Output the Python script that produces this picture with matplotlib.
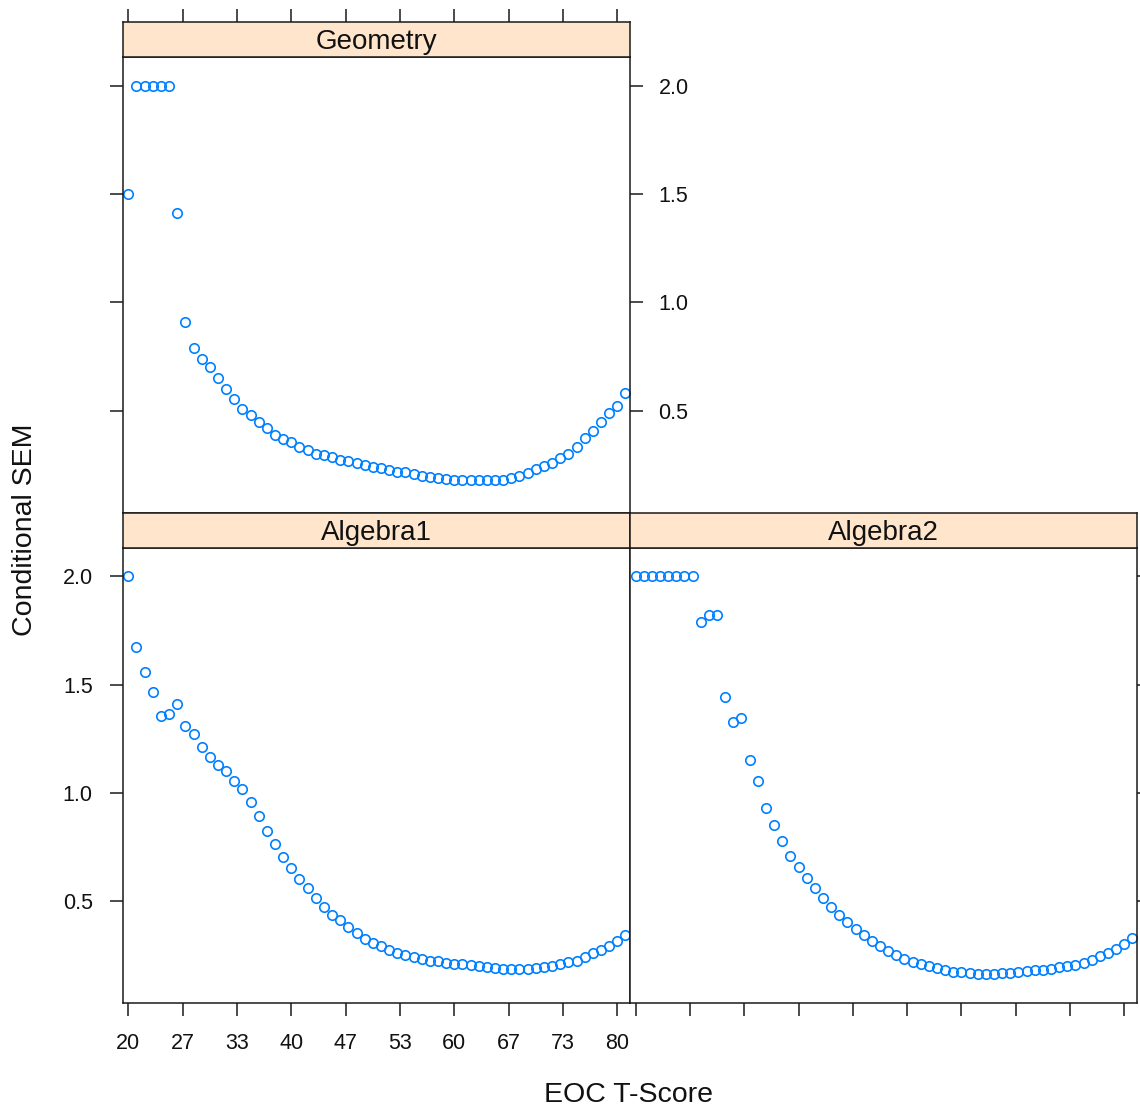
import numpy as np
import matplotlib
matplotlib.use("Agg")
import matplotlib.pyplot as plt

plt.rcParams['font.family'] = ['Liberation Sans', 'DejaVu Sans']

# ---- data ----
t_score = list(range(20, 82))

geometry = [1.50, 2.00, 2.00, 2.00, 2.00, 2.00, 1.41, 0.91, 0.79, 0.74,
            0.70, 0.65, 0.60, 0.555, 0.51, 0.48, 0.45, 0.42, 0.39, 0.37,
            0.355, 0.335, 0.32, 0.30, 0.295, 0.285, 0.275, 0.268, 0.26, 0.25,
            0.243, 0.235, 0.228, 0.22, 0.218, 0.21, 0.20, 0.195, 0.19, 0.185,
            0.182, 0.182, 0.182, 0.182, 0.182, 0.182, 0.182, 0.19, 0.20, 0.215,
            0.23, 0.245, 0.26, 0.28, 0.30, 0.335, 0.375, 0.405, 0.45, 0.49,
            0.52, 0.58]

algebra1 = [2.00, 1.675, 1.56, 1.465, 1.355, 1.365, 1.41, 1.31, 1.27, 1.21,
            1.165, 1.13, 1.10, 1.055, 1.02, 0.958, 0.892, 0.823, 0.763, 0.705,
            0.651, 0.600, 0.559, 0.516, 0.474, 0.436, 0.41, 0.382, 0.354, 0.325,
            0.308, 0.29, 0.275, 0.262, 0.25, 0.24, 0.232, 0.225, 0.222, 0.215,
            0.21, 0.207, 0.202, 0.198, 0.193, 0.19, 0.187, 0.187, 0.187, 0.187,
            0.19, 0.196, 0.20, 0.21, 0.216, 0.222, 0.243, 0.259, 0.274, 0.292,
            0.317, 0.343]

algebra2 = [2.00, 2.00, 2.00, 2.00, 2.00, 2.00, 2.00, 2.00, 1.79, 1.82,
            1.82, 1.443, 1.328, 1.348, 1.151, 1.055, 0.928, 0.851, 0.776, 0.71,
            0.655, 0.608, 0.559, 0.516, 0.474, 0.436, 0.402, 0.371, 0.343, 0.317,
            0.29, 0.271, 0.25, 0.232, 0.22, 0.21, 0.198, 0.19, 0.18, 0.172,
            0.17, 0.165, 0.163, 0.163, 0.163, 0.165, 0.168, 0.171, 0.175, 0.18,
            0.183, 0.188, 0.195, 0.198, 0.205, 0.215, 0.228, 0.245, 0.258, 0.277,
            0.30, 0.328]

panel_names = ["Geometry", "Algebra1", "Algebra2"]
x_tick_pos = [20 + k * 60 / 9 for k in range(10)]
x_tick_labels = ["20", "27", "33", "40", "47", "53", "60", "67", "73", "80"]
y_ticks = [0.5, 1.0, 1.5, 2.0]
y_tick_labels = ["0.5", "1.0", "1.5", "2.0"]

# ---- layout ----
W, H = 1140, 1110
fig = plt.figure(figsize=(W / 100, H / 100), dpi=100)

def frac(x0, y0, x1, y1):
    return [x0 / W, 1 - y1 / H, (x1 - x0) / W, (y1 - y0) / H]

XL = (19.31, 81.56)
YL = (0.03, 2.133)
pt_color = '#0080ff'
frame_col = '#1a1a1a'
TICK_LEN = 9.5
tick_fs = 15.5
strip_fs = 20

xl_px, xm_px, xr_px = 122.7, 630.0, 1137.0
top_strip = (21.7, 56.7)
top_plot = (56.7, 512.7)
bot_strip = (512.7, 547.7)
bot_plot = (547.7, 1002.7)

def make_panel(x0, x1, strip, plot, name, yvals):
    ax = fig.add_axes(frac(x0, plot[0], x1, plot[1]))
    ax.plot(t_score, yvals, linestyle='none', marker='o', markersize=6.8,
            markerfacecolor='none', markeredgecolor=pt_color, markeredgewidth=1.2,
            clip_on=True)
    ax.set_xlim(*XL)
    ax.set_ylim(*YL)
    for s in ax.spines.values():
        s.set_color(frame_col)
        s.set_linewidth(1.1)
    ax.tick_params(axis='both', direction='out', length=TICK_LEN, width=1.1,
                   color=frame_col, labelsize=tick_fs, labelcolor='#111111')
    ax.set_xticks(x_tick_pos)
    ax.set_xticklabels(x_tick_labels)
    ax.set_yticks(y_ticks)
    ax.set_yticklabels(y_tick_labels)

    sax = fig.add_axes(frac(x0, strip[0], x1, strip[1]))
    sax.set_facecolor('#ffe5cc')
    sax.set_xlim(*XL)
    sax.set_ylim(0, 1)
    for s in sax.spines.values():
        s.set_color(frame_col)
        s.set_linewidth(1.1)
    sax.set_yticks([])
    sax.set_xticks(x_tick_pos)
    sax.tick_params(axis='x', bottom=False, labelbottom=False, top=False,
                    labeltop=False, direction='out', length=TICK_LEN, width=1.1,
                    color=frame_col)
    sax.text(0.5, 0.42, name, transform=sax.transAxes, ha='center', va='center',
             fontsize=strip_fs, color='#111111')
    return ax, sax

# Geometry (top-left)
axg, sg = make_panel(xl_px, xm_px, top_strip, top_plot, panel_names[0], geometry)
axg.tick_params(axis='x', bottom=False, labelbottom=False, top=False, labeltop=False)
axg.tick_params(axis='y', left=True, labelleft=False, right=True, labelright=True, pad=11)
sg.tick_params(axis='x', top=True)

# Algebra1 (bottom-left)
ax1, s1 = make_panel(xl_px, xm_px, bot_strip, bot_plot, panel_names[1], algebra1)
ax1.tick_params(axis='x', bottom=True, labelbottom=True, pad=12)
ax1.tick_params(axis='y', left=True, labelleft=True, right=False, pad=12)

# Algebra2 (bottom-right)
ax2, s2 = make_panel(xm_px, xr_px, bot_strip, bot_plot, panel_names[2], algebra2)
ax2.tick_params(axis='x', bottom=True, labelbottom=False)
ax2.tick_params(axis='y', left=False, labelleft=False, right=True, labelright=False)

fig.text(628.5 / W, 1 - 1095 / H, "EOC T-Score", ha='center', va='center',
         fontsize=20.5, color='#111111')
fig.text(25 / W, 1 - 530 / H, "Conditional SEM", ha='center', va='center',
         rotation=90, fontsize=20.5, color='#111111')

fig.savefig("out.png", dpi=100, facecolor='white')
